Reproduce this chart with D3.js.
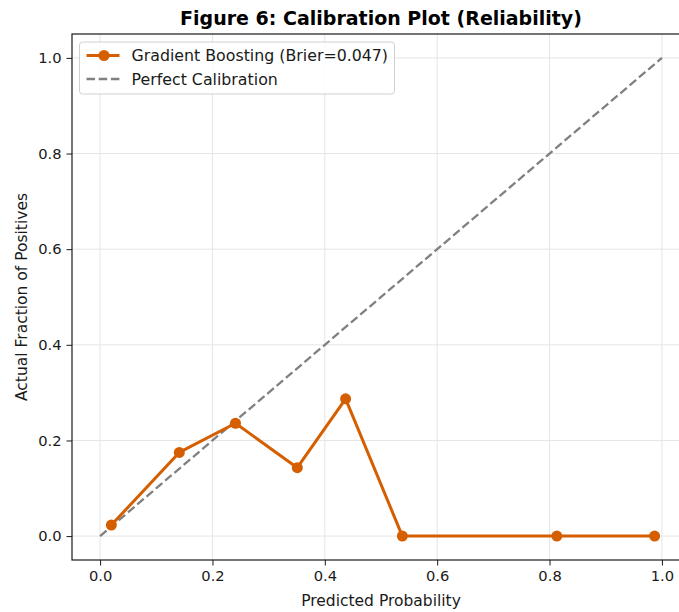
<!DOCTYPE html>
<html>
<head>
<meta charset="utf-8">
<script src="https://cdn.jsdelivr.net/npm/d3@7"></script>
<style>
  body { margin: 0; background: #fff; }
  svg { font-family: "DejaVu Sans", sans-serif; }
</style>
</head>
<body>
<svg width="679" height="612"></svg>
<script>
const width = 679;
const height = 612;

// calibration bins
const predicted = [0.020, 0.141, 0.241, 0.351, 0.437, 0.538, 0.813, 0.987];
const actual = [0.023, 0.175, 0.236, 0.143, 0.287, 0.0, 0.0, 0.0];
const perfect = [0, 1];
const xTicks = [0, 0.2, 0.4, 0.6, 0.8, 1.0];
const yTicks = [0, 0.2, 0.4, 0.6, 0.8, 1.0];

const modelColor = "#d55e00";
const margin = { left: 72, top: 34, right: 690, bottom: 560 };

const svg = d3.select("svg");

const x = d3.scaleLinear().domain([-0.05, 1.05]).range([margin.left, margin.right]);
const y = d3.scaleLinear().domain([-0.05, 1.05]).range([margin.bottom, margin.top]);

// grid
const grid = svg.append("g").attr("stroke", "#e5e5e5").attr("stroke-width", 1);
grid.selectAll(".gx").data(xTicks).join("line")
  .attr("x1", d => x(d)).attr("x2", d => x(d))
  .attr("y1", margin.top).attr("y2", margin.bottom);
grid.selectAll(".gy").data(yTicks).join("line")
  .attr("x1", margin.left).attr("x2", margin.right)
  .attr("y1", d => y(d)).attr("y2", d => y(d));

// perfect calibration diagonal
svg.append("line")
  .attr("x1", x(perfect[0])).attr("y1", y(perfect[0]))
  .attr("x2", x(perfect[1])).attr("y2", y(perfect[1]))
  .attr("stroke", "#808080")
  .attr("stroke-width", 2.3)
  .attr("stroke-dasharray", "8.5,3.7");

// model curve
const pts = predicted.map((p, i) => [p, actual[i]]);
svg.append("path")
  .datum(pts)
  .attr("fill", "none")
  .attr("stroke", modelColor)
  .attr("stroke-width", 3)
  .attr("stroke-linejoin", "round")
  .attr("d", d3.line().x(d => x(d[0])).y(d => y(d[1])));

svg.append("g").selectAll("circle")
  .data(pts)
  .join("circle")
  .attr("cx", d => x(d[0]))
  .attr("cy", d => y(d[1]))
  .attr("r", 5.5)
  .attr("fill", modelColor);

// axes (spines drawn separately)
const xAxis = svg.append("g")
  .attr("transform", `translate(0,${margin.bottom})`)
  .call(d3.axisBottom(x).tickValues(xTicks).tickFormat(d3.format(".1f")).tickSizeOuter(0).tickSize(5.5).tickPadding(5));
const yAxis = svg.append("g")
  .attr("transform", `translate(${margin.left},0)`)
  .call(d3.axisLeft(y).tickValues(yTicks).tickFormat(d3.format(".1f")).tickSizeOuter(0).tickSize(5.5).tickPadding(5));

[xAxis, yAxis].forEach(a => {
  a.attr("font-size", null).attr("font-family", null);
  a.select(".domain").remove();
  a.selectAll("text").style("font-size", "14.7px").attr("fill", "#1a1a1a");
  a.selectAll(".tick line").attr("stroke", "#1a1a1a").attr("stroke-width", 1);
});

svg.append("rect")
  .attr("x", margin.left).attr("y", margin.top)
  .attr("width", margin.right - margin.left)
  .attr("height", margin.bottom - margin.top)
  .attr("fill", "none")
  .attr("stroke", "#1a1a1a")
  .attr("stroke-width", 1.2);

// labels
svg.append("text")
  .attr("x", (margin.left + margin.right) / 2)
  .attr("y", 25)
  .attr("text-anchor", "middle")
  .style("font-size", "19px")
  .attr("font-weight", "bold")
  .attr("fill", "#000")
  .text("Figure 6: Calibration Plot (Reliability)");

svg.append("text")
  .attr("x", (margin.left + margin.right) / 2)
  .attr("y", 606)
  .attr("text-anchor", "middle")
  .style("font-size", "15.5px")
  .attr("fill", "#1a1a1a")
  .text("Predicted Probability");

svg.append("text")
  .attr("transform", `translate(27,${(margin.top + margin.bottom) / 2}) rotate(-90)`)
  .attr("text-anchor", "middle")
  .style("font-size", "15.5px")
  .attr("fill", "#1a1a1a")
  .text("Actual Fraction of Positives");

// legend
const legend = svg.append("g").attr("transform", "translate(79.5,42)");
legend.append("rect")
  .attr("width", 315).attr("height", 52)
  .attr("rx", 3)
  .attr("fill", "#fff").attr("fill-opacity", 0.8)
  .attr("stroke", "#d0d0d0");

const items = [
  { label: "Gradient Boosting (Brier=0.047)", color: modelColor, dash: null, width: 3, marker: true },
  { label: "Perfect Calibration", color: "#808080", dash: "8.5,3.7", width: 2.3, marker: false }
];
const row = legend.selectAll("g.item").data(items).join("g")
  .attr("transform", (d, i) => `translate(0,${13.5 + i * 23.5})`);
row.append("line")
  .attr("x1", 7).attr("x2", 40)
  .attr("stroke", d => d.color)
  .attr("stroke-width", d => d.width)
  .attr("stroke-dasharray", d => d.dash);
row.filter(d => d.marker).append("circle")
  .attr("cx", 24.5).attr("r", 5.5).attr("fill", d => d.color);
row.append("text")
  .attr("x", 52).attr("y", 5.5)
  .style("font-size", "15.8px")
  .attr("fill", "#1a1a1a")
  .text(d => d.label);
</script>
</body>
</html>
